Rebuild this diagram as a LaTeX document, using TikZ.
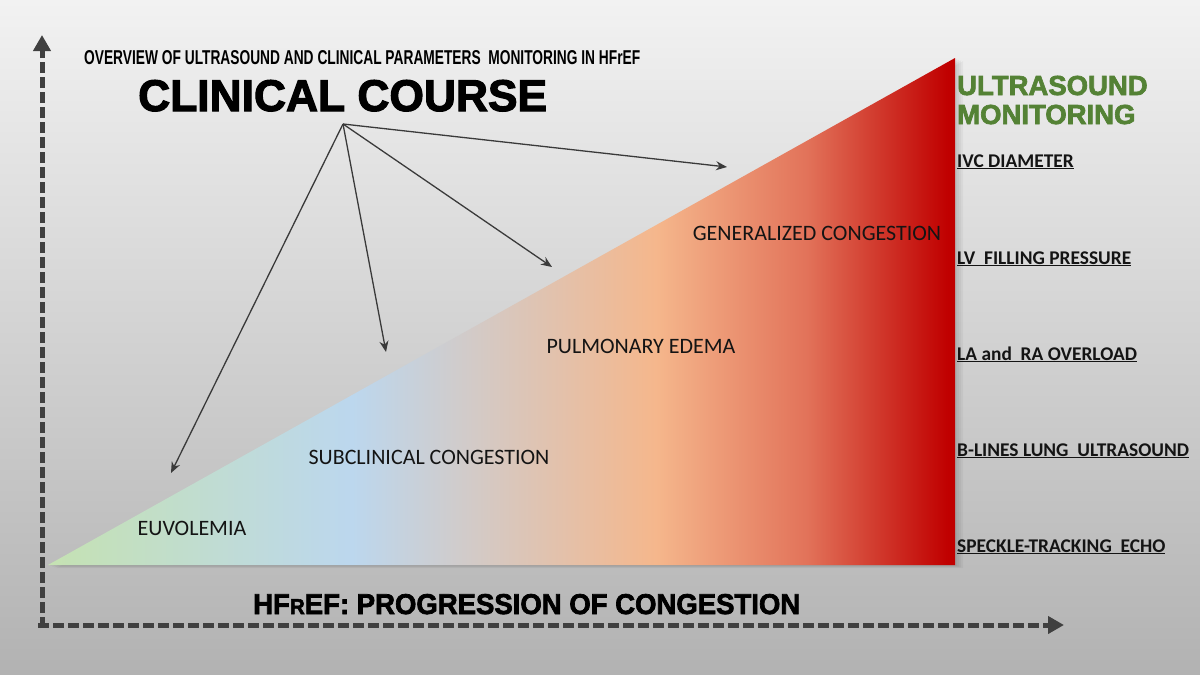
\documentclass[tikz,border=0pt]{standalone}
\usepackage{fontspec}
\setmainfont{Carlito}
\newfontfamily\arialfont{Liberation Sans}
\newfontfamily\blackfont{Liberation Sans}[BoldFont=* Bold, BoldFeatures={FakeBold=2.5}]
\usetikzlibrary{arrows.meta}
\definecolor{bgtop}{RGB}{242,242,242}
\definecolor{bgbot}{RGB}{178,178,178}
\definecolor{cgreen}{RGB}{197,226,178}
\definecolor{cblue}{RGB}{188,215,238}
\definecolor{cpeach}{RGB}{245,183,140}
\definecolor{corange}{RGB}{226,115,90}
\definecolor{cred}{RGB}{192,0,0}
\definecolor{axisgray}{RGB}{64,64,64}
\definecolor{usgreen}{RGB}{84,130,53}
\definecolor{txt}{RGB}{20,20,20}
\pgfdeclarehorizontalshading{congestion}{100bp}{color(0bp)=(cgreen); color(25bp)=(cgreen); color(41.75bp)=(cblue); color(58.5bp)=(cpeach); color(66.8bp)=(corange); color(74.6bp)=(cred); color(100bp)=(cred)}
\tikzset{
  axisline/.style={draw=axisgray, line width=5pt, dash pattern=on 11pt off 4pt, -{Triangle[length=16pt,width=17pt]}},
  pointer/.style={draw=axisgray!90!black, line width=1.3pt, -{Stealth[length=11pt,width=9pt]}},
  stage/.style={font=\fontsize{22}{24}\selectfont, text=txt, inner sep=0pt},
  uslabel/.style={font=\bfseries\fontsize{19.4}{21}\selectfont, text=txt, inner sep=0pt, anchor=base west},
  ushead/.style={font=\blackfont\bfseries\fontsize{27.5}{30}\selectfont, text=usgreen, inner sep=0pt, anchor=base west},
}
\begin{document}
\begin{tikzpicture}[x=1pt,y=-1pt]
\useasboundingbox (0,0) rectangle (1200,675);
\fill[top color=bgtop, bottom color=bgbot] (0,0) rectangle (1200,675);
% shadow of triangle
\foreach \o in {2,4,6,8}{
  \fill[black, opacity=0.04] (48+\o,565+\o*0.4) -- (955+\o,565+\o*0.4) -- (955+\o,58+\o*0.4) -- cycle;
}
% triangle
\path[shading=congestion] (48,565) coordinate (tl) -- (955,565) coordinate (tr) -- (955,58) coordinate (tt) -- cycle;
% axes
\coordinate (o) at (42,628);
\coordinate (ytip) at (42,35);
\coordinate (xo) at (38,625);
\coordinate (xtip) at (1064,625);
\draw[axisline] (o) -- (ytip);
\draw[axisline] (xo) -- (xtip);
% titles
\node[anchor=base west, inner sep=0pt] (overview) at (84,64) {\resizebox{556pt}{14pt}{\arialfont\bfseries\fontsize{20}{20}\selectfont OVERVIEW OF ULTRASOUND AND CLINICAL PARAMETERS\ \ MONITORING IN HFrEF}};
\node[anchor=base west, inner sep=0pt] (course) at (138,111) {\resizebox{409pt}{31pt}{\blackfont\bfseries\fontsize{40}{40}\selectfont CLINICAL COURSE}};
\node[anchor=base west, inner sep=0pt] (xlabel) at (253,614) {\resizebox{547pt}{20pt}{\blackfont\bfseries\fontsize{30}{30}\selectfont HF\scalebox{0.75}{R}EF: PROGRESSION OF CONGESTION}};
% pointers
\coordinate (src) at (343,124);
\coordinate (p1) at (727,167);
\coordinate (p2) at (552,267);
\coordinate (p3) at (386,352);
\coordinate (p4) at (171,473);
\draw[pointer] (src) -- (p1);
\draw[pointer] (src) -- (p2);
\draw[pointer] (src) -- (p3);
\draw[pointer] (src) -- (p4);
% stage labels
\node[stage] (euv) at (192,528) {EUVOLEMIA};
\node[stage] (sub) at (429,457) {SUBCLINICAL CONGESTION};
\node[stage] (pul) at (641,346) {PULMONARY EDEMA};
\node[stage] (gen) at (817,233) {GENERALIZED CONGESTION};
% ultrasound monitoring
\node[ushead] (us1) at (957,95) {ULTRASOUND};
\node[ushead] (us2) at (957,124) {MONITORING};
\node[uslabel] (ivc) at (957,167) {\underline{IVC DIAMETER}};
\node[uslabel] (lv) at (957,264) {\underline{LV\ \ FILLING PRESSURE}};
\node[uslabel] (la) at (957,360) {\underline{LA and\ \ RA OVERLOAD}};
\node[uslabel] (bl) at (957,456) {\underline{B-LINES LUNG\ \ ULTRASOUND}};
\node[uslabel] (st) at (957,552) {\underline{SPECKLE-TRACKING\ \ ECHO}};
\end{tikzpicture}
\end{document}
